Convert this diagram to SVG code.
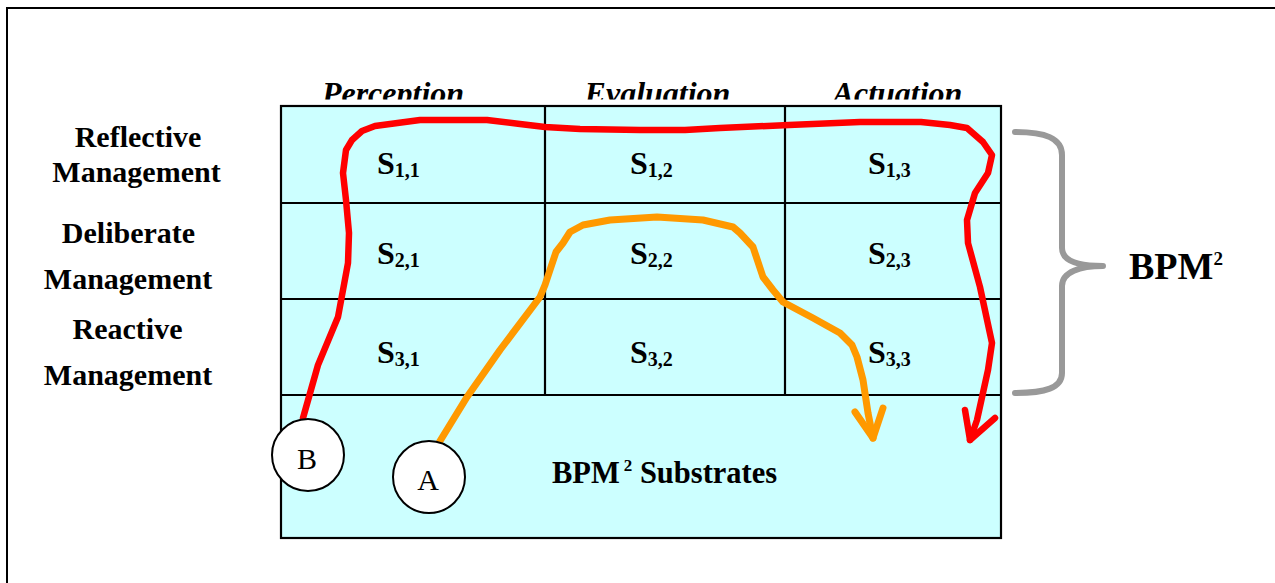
<svg xmlns="http://www.w3.org/2000/svg" width="1275" height="583" viewBox="0 0 1275 583">
<style>
.lbl{font-family:"Liberation Serif","Times New Roman",serif;font-weight:bold;font-size:30px;fill:#000;text-anchor:middle}
.hdr{font-family:"Liberation Serif","Times New Roman",serif;font-weight:bold;font-style:italic;font-size:32px;fill:#000;text-anchor:middle}
.s{font-family:"Liberation Serif","Times New Roman",serif;font-weight:bold;font-size:32px;fill:#000}
.sub{font-size:20px}
.cell{fill:#CCFFFF;stroke:#000;stroke-width:2.2}
.gl{stroke:#000;stroke-width:2.2;fill:none}
.circ{fill:#fff;stroke:#000;stroke-width:2}
.ctext{font-family:"Liberation Serif","Times New Roman",serif;font-size:30px;fill:#000;text-anchor:middle}
.red{fill:none;stroke:#FF0000;stroke-width:6.5;stroke-linejoin:round;stroke-linecap:round}
.orange{fill:none;stroke:#FF9900;stroke-width:7;stroke-linejoin:round;stroke-linecap:round}
</style>
<defs>
<clipPath id="hdrclip"><rect x="0" y="0" width="1275" height="99.5"/></clipPath>
</defs>
<rect x="0" y="0" width="1275" height="583" fill="#fff"/>
<rect x="7" y="8" width="1300" height="700" fill="none" stroke="#000" stroke-width="2"/>

<g id="headers" clip-path="url(#hdrclip)">
<text class="hdr" x="393" y="104">Perception</text>
<text class="hdr" x="657.5" y="104">Evaluation</text>
<text class="hdr" x="897.5" y="104">Actuation</text>
</g>

<g id="row-labels">
<text class="lbl" x="138" y="147">Reflective</text>
<text class="lbl" x="136.5" y="182">Management</text>
<text class="lbl" x="128.5" y="243">Deliberate</text>
<text class="lbl" x="128" y="289">Management</text>
<text class="lbl" x="127.5" y="339">Reactive</text>
<text class="lbl" x="128" y="385">Management</text>
</g>

<g id="grid">
<rect class="cell" x="281" y="106" width="720" height="432"/>
<line class="gl" x1="281" y1="203" x2="1001" y2="203"/>
<line class="gl" x1="281" y1="299" x2="1001" y2="299"/>
<line class="gl" x1="281" y1="395" x2="1001" y2="395"/>
<line class="gl" x1="545" y1="106" x2="545" y2="395"/>
<line class="gl" x1="785" y1="106" x2="785" y2="395"/>
</g>

<g id="cells">
<g id="s11"><text class="s" x="377" y="174">S<tspan class="sub" dy="3">1,1</tspan></text></g>
<g id="s12"><text class="s" x="630" y="174">S<tspan class="sub" dy="3">1,2</tspan></text></g>
<g id="s13"><text class="s" x="868" y="174">S<tspan class="sub" dy="3">1,3</tspan></text></g>
<g id="s21"><text class="s" x="377" y="264">S<tspan class="sub" dy="3">2,1</tspan></text></g>
<g id="s22"><text class="s" x="630" y="264">S<tspan class="sub" dy="3">2,2</tspan></text></g>
<g id="s23"><text class="s" x="868" y="264">S<tspan class="sub" dy="3">2,3</tspan></text></g>
<g id="s31"><text class="s" x="377" y="363">S<tspan class="sub" dy="3">3,1</tspan></text></g>
<g id="s32"><text class="s" x="630" y="363">S<tspan class="sub" dy="3">3,2</tspan></text></g>
<g id="s33"><text class="s" x="868" y="363">S<tspan class="sub" dy="3">3,3</tspan></text></g>
</g>

<g id="substrates">
<text class="s" x="552" y="483" style="font-size:30.5px">BPM<tspan style="font-size:17px" dx="4" dy="-12">2</tspan><tspan dy="12"> Substrates</tspan></text>
</g>

<g id="brace">
<path d="M1015,132 C1045,132 1062,138 1062,155 L1062,248 C1062,262 1080,266 1103,266 C1080,266 1062,272 1062,286 L1062,373 C1062,388 1045,393 1015,393" fill="none" stroke="#999999" stroke-width="6" stroke-linecap="round" stroke-linejoin="round"/>
</g>
<g id="bpm2">
<text class="s" x="1129" y="279" style="font-size:38px">BPM<tspan style="font-size:19px" dy="-14">2</tspan></text>
</g>

<g id="connectors">
<polyline class="red" points="303,418 318,365 338,317 348,263 349,233 346,200 343,173 346,150 352,140 362,131 375,126 420,120 487,120 520,124 545,127 580,129 640,130 685,130 720,128 789,125 860,122 921,122 950,125 967,128 983,142 992,155 988,173 975,193 967,220 968,243 980,287 992,343 988,370 977,420 970,440"/>
<polyline class="red" points="965,410 970,440 995,418"/>
<polyline class="orange" points="440,441 467,397 500,350 540,297 545,285 550,270 556,252 563,243 570,232 583,225 610,220 657,217 703,220 733,227 740,233 753,247 763,277 773,290 783,302 813,318 840,333 852,345 857,357 863,380 868,413 873,438"/>
<polyline class="orange" points="855,412 873,438 883,408"/>
</g>

<g id="node-B">
<circle class="circ" cx="308" cy="455" r="36"/>
<text class="ctext" x="307" y="469">B</text>
</g>
<g id="node-A">
<circle class="circ" cx="429" cy="477" r="36"/>
<text class="ctext" x="428" y="490">A</text>
</g>
</svg>
